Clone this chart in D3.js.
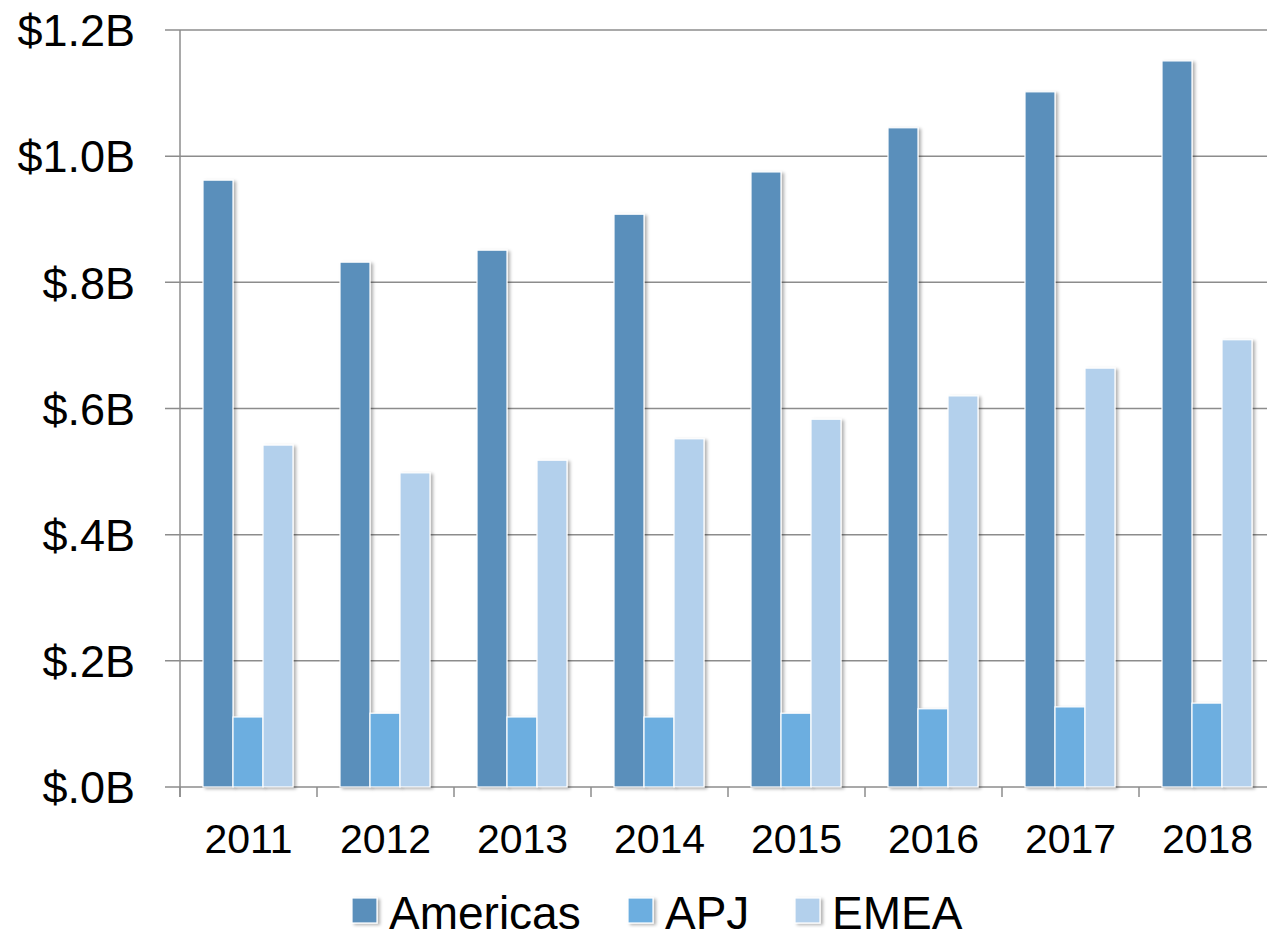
<!DOCTYPE html>
<meta charset="utf-8">
<style>
body { margin: 0; background: #fff; }
svg { display: block; font-family: "Liberation Sans", Arial, sans-serif; }
.grid line { stroke: #8c8c8c; stroke-width: 1.5px; }
.axis path, .axis line { stroke: #8c8c8c; stroke-width: 1.5px; }
.axis text { fill: #000; }
</style>
<svg width="1267" height="932"></svg>
<script src="https://d3js.org/d3.v7.min.js"></script>
<script>

var years = ["2011", "2012", "2013", "2014", "2015", "2016", "2017", "2018"];
var series = ["Americas", "APJ", "EMEA"];
var americas = [0.962, 0.832, 0.851, 0.908, 0.975, 1.045, 1.102, 1.151];
var apj      = [0.111, 0.117, 0.111, 0.111, 0.117, 0.124, 0.127, 0.133];
var emea     = [0.542, 0.498, 0.518, 0.552, 0.583, 0.620, 0.664, 0.709];
var yTicks = [0, 0.2, 0.4, 0.6, 0.8, 1.0, 1.2];
var colors = ["#5a8fbb", "#6caee0", "#b3d0ec"];

var values = [americas, apj, emea];
var rows = years.map(function(y, i) {
  return { year: y, vals: series.map(function(s, j) { return { key: s, value: values[j][i] }; }) };
});

var svg = d3.select("svg");
var plotLeft = 180, plotTop = 30, plotBottom = 787;
var step = 137;

var x = d3.scaleBand().domain(years).range([plotLeft, plotLeft + step * years.length]);
var xs = d3.scaleBand().domain(series).range([23, 113]);
var y = d3.scaleLinear().domain([0, 1.2]).range([plotBottom, plotTop]);
var color = d3.scaleOrdinal().domain(series).range(colors);

var defs = svg.append("defs");
var f = defs.append("filter").attr("id", "shadow")
    .attr("x", "-30%").attr("y", "-10%").attr("width", "160%").attr("height", "130%");
f.append("feDropShadow").attr("dx", 2.5).attr("dy", 1.5).attr("stdDeviation", 1.5)
    .attr("flood-color", "#000").attr("flood-opacity", 0.3);

// gridlines
svg.append("g").attr("class", "grid")
  .selectAll("line").data(yTicks).enter().append("line")
    .attr("x1", plotLeft - 15).attr("x2", plotLeft + step * years.length)
    .attr("y1", function(d) { return y(d); }).attr("y2", function(d) { return y(d); });

// y axis
var yAxis = svg.append("g").attr("class", "axis")
    .attr("transform", "translate(" + plotLeft + ",0)")
    .call(d3.axisLeft(y).tickValues(yTicks).tickSize(0).tickSizeOuter(0)
      .tickFormat(function(d) {
        var s = d.toFixed(1);
        return "$" + (d < 1 ? s.slice(1) : s) + "B";
      }));
yAxis.select(".domain").remove();
yAxis.selectAll("text").attr("x", -45).attr("dy", "0.35em").style("font-size", "45px");
svg.append("line")
    .attr("x1", plotLeft).attr("x2", plotLeft).attr("y1", plotTop).attr("y2", plotBottom + 10)
    .style("stroke", "#8c8c8c").style("stroke-width", "1.5px");

// x axis ticks
svg.append("g").selectAll("line").data(years).enter().append("line")
    .attr("x1", function(d) { return x(d); }).attr("x2", function(d) { return x(d); })
    .attr("y1", plotBottom).attr("y2", plotBottom + 10)
    .style("stroke", "#8c8c8c").style("stroke-width", "1.5px");

svg.append("g").selectAll("text").data(years).enter().append("text")
    .attr("x", function(d) { return x(d) + x.bandwidth() / 2; })
    .attr("y", 853)
    .attr("text-anchor", "middle")
    .style("font-size", "41px")
    .text(function(d) { return d; });

// bars
var groups = svg.append("g").selectAll("g").data(rows).enter().append("g")
    .attr("transform", function(d) { return "translate(" + x(d.year) + ",0)"; });

groups.selectAll("rect").data(function(d) { return d.vals; }).enter().append("rect")
    .attr("x", function(d) { return xs(d.key); })
    .attr("width", xs.bandwidth())
    .attr("y", function(d) { return y(d.value); })
    .attr("height", function(d) { return plotBottom - y(d.value); })
    .attr("fill", function(d) { return color(d.key); })
    .attr("stroke", "#fff").attr("stroke-width", 1.2)
    .attr("filter", "url(#shadow)");

// legend
var legendX = [352, 628, 795];
var leg = svg.append("g").selectAll("g").data(series).enter().append("g")
    .attr("transform", function(d, i) { return "translate(" + legendX[i] + ",898)"; });
leg.append("rect").attr("width", 25).attr("height", 25)
    .attr("fill", function(d) { return color(d); })
    .attr("stroke", "#fff").attr("stroke-width", 1.2)
    .attr("filter", "url(#shadow)");
leg.append("text").attr("x", 37).attr("y", 31)
    .style("font-size", "46px")
    .text(function(d) { return d; });

</script>
